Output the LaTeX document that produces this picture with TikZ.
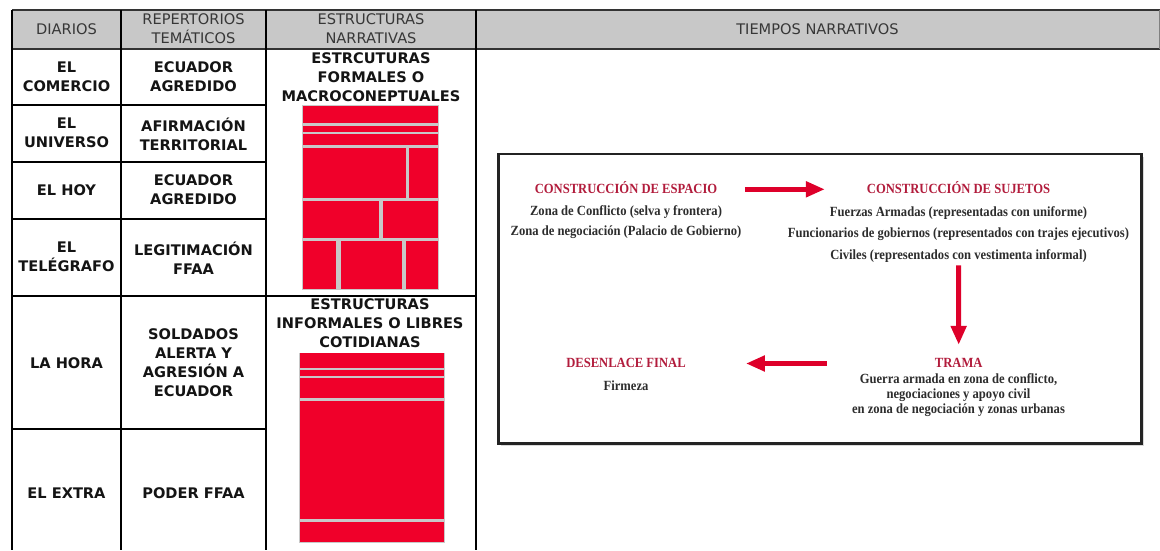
\documentclass[tikz,border=0pt]{standalone}
\usepackage{fontspec}
\setmainfont{DejaVu Sans}
\newfontfamily\tnr[FakeStretch=0.9]{Liberation Serif}
\usetikzlibrary{arrows.meta}
\definecolor{hdrgray}{RGB}{200,200,200}
\definecolor{hdrtext}{RGB}{55,55,55}
\definecolor{celltext}{RGB}{20,20,20}
\definecolor{blockred}{RGB}{240,0,42}
\definecolor{gapgray}{RGB}{200,200,200}
\definecolor{arrred}{RGB}{222,0,42}
\definecolor{titlered}{RGB}{178,28,60}
\definecolor{bodytext}{RGB}{45,45,45}
\definecolor{framegray}{RGB}{35,35,35}
\begin{document}
\begin{tikzpicture}[x=1pt,y=-1pt,
  hdr/.style={font=\fontsize{14.6}{18.7}\selectfont, text=hdrtext, align=center, inner sep=0pt},
  cell/.style={font=\bfseries\fontsize{14.6}{19}\selectfont, text=celltext, align=center, inner sep=0pt},
  tline/.style={draw=black, line width=1.3pt},
  hline/.style={draw=black!80, line width=2pt},
  redblk/.style={fill=blockred},
  ttl/.style={font=\tnr\bfseries\fontsize{14}{16}\selectfont, text=titlered, inner sep=0pt, anchor=base},
  txt/.style={font=\tnr\bfseries\fontsize{14}{20}\selectfont, text=bodytext, align=center, inner sep=0pt},
  bigarrow/.style={draw=arrred, line width=5pt, -{Triangle[length=19pt,width=15pt]}}
]
\useasboundingbox (0,0) rectangle (1160,550);
\fill[white] (0,0) rectangle (1160,550);
% header
\fill[hdrgray] (12,10) rectangle (1160,49);
\draw[hline] (12,10) -- (1160,10);
\draw[hline] (12,49) -- (1160,49);
\draw[draw=black!50, line width=1pt] (1159,10) -- (1159,49);
% verticals
\foreach \xx in {12,121,266,476} \draw[tline] (\xx,10) -- (\xx,550);
% horizontals
\foreach \yy in {105,162,219} \draw[tline] (12,\yy) -- (266,\yy);
\draw[tline] (12,296) -- (476,296);
\draw[tline] (12,429) -- (266,429);

% header texts
\node[hdr] (hDiarios) at (66.5,29) {DIARIOS};
\node[hdr] (hRep) at (193.5,28.5) {REPERTORIOS\\TEMÁTICOS};
\node[hdr] (hEst) at (371,28.5) {ESTRUCTURAS\\NARRATIVAS};
\node[hdr] (hTiempos) at (817.5,29) {TIEMPOS NARRATIVOS};

% column 1
\node[cell] (dComercio) at (66.5,76.5) {EL\\COMERCIO};
\node[cell] (dUniverso) at (66.5,133) {EL\\UNIVERSO};
\node[cell] (dHoy) at (66.5,190) {EL HOY};
\node[cell] (dTelegrafo) at (66.5,256.5) {EL\\TELÉGRAFO};
\node[cell] (dHora) at (66.5,362.7) {LA HORA};
\node[cell] (dExtra) at (66.5,492.7) {EL EXTRA};
% column 2
\node[cell] (rComercio) at (193.5,76.5) {ECUADOR\\AGREDIDO};
\node[cell] (rUniverso) at (193.5,134.5) {AFIRMACIÓN\\TERRITORIAL};
\node[cell] (rHoy) at (193.5,189.5) {ECUADOR\\AGREDIDO};
\node[cell] (rTelegrafo) at (193.5,258) {LEGITIMACIÓN\\FFAA};
\node[cell] (rHora) at (193.5,363) {SOLDADOS\\ALERTA Y\\AGRESIÓN A\\ECUADOR};
\node[cell] (rExtra) at (193.5,492.7) {PODER FFAA};
% column 3
\node[cell] (eFormal) at (371,77.2) {ESTRCUTURAS\\FORMALES O\\MACROCONEPTUALES};
\node[cell] (eInformal) at (370,323.6) {ESTRUCTURAS\\INFORMALES O LIBRES\\COTIDIANAS};

% formal blocks
\fill[gapgray] (302,105) rectangle (439,290);
\fill[redblk] (302.7,105.7) rectangle (438.3,123.3);
\fill[redblk] (302.7,126) rectangle (438.3,131.7);
\fill[redblk] (302.7,134.3) rectangle (438.3,145);
\fill[redblk] (302.7,147.5) rectangle (406,198.3);
\fill[redblk] (408.5,147.5) rectangle (438.3,198.3);
\fill[redblk] (302.7,201) rectangle (379.3,237.7);
\fill[redblk] (382.5,201) rectangle (438.3,237.7);
\fill[redblk] (302.7,240.7) rectangle (336.3,289.3);
\fill[redblk] (341.3,240.7) rectangle (402.3,289.3);
\fill[redblk] (406,240.7) rectangle (438.3,289.3);
% informal blocks
\fill[gapgray] (299.3,352.6) rectangle (445,542.7);
\fill[redblk] (300,353.3) rectangle (444.3,367.7);
\fill[redblk] (300,370) rectangle (444.3,376);
\fill[redblk] (300,378.3) rectangle (444.3,398.3);
\fill[redblk] (300,400.7) rectangle (444.3,519);
\fill[redblk] (300,521.7) rectangle (444.3,542);

% narrative frame
\fill[black!15] (501,157) rectangle (1144,446);
\node[draw=framegray, fill=white, line width=2.6pt, minimum width=643pt, minimum height=289.5pt, inner sep=0pt] (frame) at (820.2,298.7) {};

\node[ttl] (espT) at (626,193.9) {CONSTRUCCIÓN DE ESPACIO};
\node[txt] (espL) at (626,222.6) {Zona de Conflicto (selva y frontera)\\Zona de negociación (Palacio de Gobierno)};
\node[ttl] (sujT) at (958.5,193.9) {CONSTRUCCIÓN DE SUJETOS};
\node[txt, font=\tnr\bfseries\fontsize{14}{21.6}\selectfont] (sujL) at (958.5,234.3) {Fuerzas Armadas (representadas con uniforme)\\Funcionarios de gobiernos (representados con trajes ejecutivos)\\Civiles (representados con vestimenta informal)};
\node[ttl] (tramaT) at (958.7,367.9) {TRAMA};
\node[txt, font=\tnr\bfseries\fontsize{14}{15}\selectfont] (tramaL) at (958.5,395.6) {Guerra armada en zona de conflicto,\\negociaciones y apoyo civil\\en zona de negociación y zonas urbanas};
\node[ttl] (desT) at (626,367.9) {DESENLACE FINAL};
\node[txt, anchor=base] (firm) at (626,390) {Firmeza};

\draw[bigarrow] ([shift={(27.5,-4.6)}]espT.base east) -- ([shift={(-41.8,-4.6)}]sujT.base west);
\draw[bigarrow] ([yshift=-2.8pt]sujL.south) -- ([yshift=13.6pt]tramaT.north);
\draw[bigarrow] ([shift={(-132,-4.4)}]tramaT.base) -- ([shift={(60,-4.4)}]desT.base east);
\end{tikzpicture}
\end{document}
